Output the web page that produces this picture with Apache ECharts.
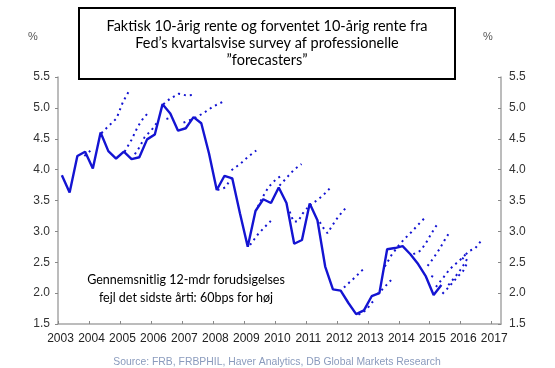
<!DOCTYPE html>
<html>
<head>
<meta charset="utf-8">
<script src="https://cdn.jsdelivr.net/npm/echarts@6/dist/echarts.min.js"></script>
<style>
html,body{margin:0;padding:0;background:#fff;}
#chart{width:555px;height:368px;}
</style>
</head>
<body>
<div id="chart"></div>
<script>
// ---- data ----
const titleLines = ['Faktisk 10-årig rente og forventet 10-årig rente fra', 'Fed\u2019s kvartalsvise survey af professionelle', '\u201dforecasters\u201d'];
const noteLines = ['Gennemsnitlig 12-mdr forudsigelses', 'fejl det sidste årti: 60bps for høj'];
const sourceText = 'Source: FRB, FRBPHIL, Haver Analytics, DB Global Markets Research';
const yTicks = [1.5, 2.0, 2.5, 3.0, 3.5, 4.0, 4.5, 5.0, 5.5];
const yearLabels = [2003, 2004, 2005, 2006, 2007, 2008, 2009, 2010, 2011, 2012, 2013, 2014, 2015, 2016, 2017];

// actual 10y yield, quarterly (mid-quarter positions)
const actualX = [
  2003.125, 2003.375, 2003.625, 2003.875, 2004.125, 2004.375, 2004.625, 2004.875,
  2005.125, 2005.375, 2005.625, 2005.875, 2006.125, 2006.375, 2006.625, 2006.875,
  2007.125, 2007.375, 2007.625, 2007.875, 2008.125, 2008.375, 2008.625, 2008.875,
  2009.125, 2009.375, 2009.625, 2009.875, 2010.125, 2010.375, 2010.625, 2010.875,
  2011.125, 2011.375, 2011.625, 2011.875, 2012.125, 2012.375, 2012.625, 2012.875,
  2013.125, 2013.375, 2013.625, 2013.875, 2014.125, 2014.375, 2014.625, 2014.875,
  2015.125, 2015.375
];
const actualY = [
  3.91, 3.63, 4.22, 4.29, 4.02, 4.60, 4.30, 4.18,
  4.29, 4.17, 4.20, 4.49, 4.57, 5.06, 4.91, 4.63,
  4.67, 4.85, 4.75, 4.26, 3.67, 3.90, 3.86, 3.29,
  2.75, 3.33, 3.52, 3.46, 3.71, 3.46, 2.80, 2.86,
  3.45, 3.18, 2.43, 2.06, 2.04, 1.84, 1.66, 1.72,
  1.95, 2.00, 2.71, 2.73, 2.76, 2.63, 2.47, 2.27,
  1.97, 2.13
];

// survey forecast paths: [date, forecast]
const fc01 = [[2003.85, 4.22], [2004.1, 4.33]];
const fc02 = [[2004.4, 4.59], [2004.62, 4.70], [2004.89, 4.83], [2005.1, 5.10], [2005.32, 5.30]];
const fc03 = [[2005.15, 4.29], [2005.37, 4.48], [2005.58, 4.70], [2005.75, 4.83], [2005.89, 4.91]];
const fc04 = [[2005.48, 4.25], [2005.64, 4.37], [2005.8, 4.53], [2006.02, 4.64], [2006.18, 4.75]];
const fc05 = [[2006.4, 5.06], [2006.62, 5.15], [2006.9, 5.23], [2007.15, 5.20], [2007.35, 5.21]];
const fc06 = [[2006.5, 4.82], [2006.68, 4.85]];
const fc07 = [[2007.05, 4.76], [2007.4, 4.83], [2007.68, 4.91], [2008.0, 5.02], [2008.33, 5.10]];
const fc08 = [[2008.15, 3.67], [2008.4, 3.71], [2008.62, 3.88]];
const fc09 = [[2008.6, 3.99], [2008.9, 4.10], [2009.14, 4.21], [2009.4, 4.31]];
const fc10 = [[2009.2, 2.78], [2009.45, 2.95], [2009.67, 3.07], [2009.87, 3.17]];
const fc11 = [[2009.45, 3.40], [2009.6, 3.55], [2009.8, 3.72], [2010.05, 3.85], [2010.27, 3.92]];
const fc12 = [[2010.15, 3.74], [2010.42, 3.89], [2010.62, 4.00], [2010.86, 4.09]];
const fc13 = [[2010.48, 3.32], [2010.6, 3.16], [2010.75, 3.16], [2010.9, 3.29], [2011.05, 3.38]];
const fc14 = [[2011.13, 3.42], [2011.35, 3.50], [2011.55, 3.58], [2011.78, 3.70]];
const fc15 = [[2011.45, 3.15], [2011.6, 3.03], [2011.7, 2.97], [2011.86, 3.10], [2012.05, 3.24], [2012.27, 3.37]];
const fc16 = [[2012.23, 2.09], [2012.42, 2.18], [2012.62, 2.27], [2012.77, 2.35], [2012.92, 2.41]];
const fc17 = [[2012.7, 1.65], [2012.96, 1.73], [2013.07, 1.81], [2013.23, 1.90]];
const fc18 = [[2013.3, 1.98], [2013.45, 2.05], [2013.6, 2.13], [2013.77, 2.22]];
const fc19 = [[2013.55, 2.43], [2013.77, 2.62], [2013.98, 2.76], [2014.17, 2.87], [2014.41, 2.99], [2014.63, 3.11], [2014.88, 3.24]];
const fc20 = [[2014.47, 2.63], [2014.71, 2.69], [2014.9, 2.83], [2015.07, 2.98], [2015.25, 3.12]];
const fc21 = [[2014.93, 2.44], [2015.11, 2.56], [2015.31, 2.71], [2015.47, 2.85], [2015.63, 2.98]];
const fc22 = [[2015.05, 2.28], [2015.2, 2.24]];
const fc23 = [[2015.2, 2.10], [2015.45, 2.26], [2015.65, 2.39], [2015.85, 2.48], [2016.03, 2.56], [2016.24, 2.67]];
const fc24 = [[2015.41, 1.99], [2015.6, 2.09], [2015.74, 2.17], [2015.89, 2.26], [2016.08, 2.36], [2016.2, 2.48]];
const fc25 = [[2015.6, 2.13], [2015.8, 2.25], [2015.98, 2.37], [2016.15, 2.50], [2016.25, 2.60]];
const fc26 = [[2016.05, 2.55], [2016.25, 2.68], [2016.46, 2.72], [2016.68, 2.86], [2016.73, 2.87]];
const forecasts = [fc01, fc02, fc03, fc04, fc05, fc06, fc07, fc08, fc09, fc10, fc11, fc12, fc13,
  fc14, fc15, fc16, fc17, fc18, fc19, fc20, fc21, fc22, fc23, fc24, fc25, fc26];

// ---- chart ----
const BLUE = '#1414d2';
const AXIS = '#a6a6a6';
const chart = echarts.init(document.getElementById('chart'), null, {renderer: 'canvas'});

const series = [];
forecasts.forEach(function (f) {
  series.push({
    type: 'line', data: f, symbol: 'none', silent: true, z: 2,
    lineStyle: {color: BLUE, width: 2, type: [2, 4], cap: 'butt'}
  });
});
series.push({
  type: 'line', data: actualX.map(function (x, i) { return [x, actualY[i]]; }),
  symbol: 'none', z: 3,
  lineStyle: {color: BLUE, width: 2.4}
});

const yCommon = {
  type: 'value', min: 1.5, max: 5.5, interval: 0.5,
  splitLine: {show: false},
  axisLine: {show: true, lineStyle: {color: AXIS, width: 1.5}},
  axisLabel: {color: '#333', fontSize: 12, fontFamily: 'Liberation Sans, Arial', margin: 8,
    formatter: function (v) { return v.toFixed(1); }}
};

chart.setOption({
  animation: false,
  grid: {left: 58, right: 54, top: 77, bottom: 44, containLabel: false},
  xAxis: {
    type: 'value', min: 2003, max: 2017.3,
    splitLine: {show: false},
    axisLine: {show: true, onZero: false, lineStyle: {color: AXIS, width: 1.5}},
    axisTick: {show: true, inside: true, length: 3, lineStyle: {color: '#888'}, customValues: yearLabels},
    axisLabel: {color: '#222', fontSize: 12, fontFamily: 'Liberation Sans, Arial', margin: 9,
      padding: [0, 0, 0, 5],
      customValues: yearLabels, formatter: function (v) { return String(v); }}
  },
  yAxis: [
    Object.assign({}, yCommon, {position: 'left',
      axisTick: {show: true, inside: false, length: 3, lineStyle: {color: '#888'}}}),
    Object.assign({}, yCommon, {position: 'right',
      axisTick: {show: true, inside: true, length: 3, lineStyle: {color: '#888'}}})
  ],
  series: series,
  graphic: [
    {type: 'text', left: 28, top: 31, style: {text: '%', fill: '#555', font: '11px Liberation Sans'}},
    {type: 'text', left: 483, top: 31, style: {text: '%', fill: '#555', font: '11px Liberation Sans'}},
    {type: 'rect', z: 10, shape: {x: 79, y: 8, width: 376, height: 71},
      style: {fill: '#fff', stroke: '#000', lineWidth: 2}},
    {type: 'text', z: 11, x: 267, y: 43.5,
      style: {text: titleLines.join('\n'), fill: '#000', font: '14.5px Lato', align: 'center',
        verticalAlign: 'middle', lineHeight: 16.7}},
    {type: 'text', z: 11, x: 186, y: 289,
      style: {text: noteLines.join('\n'), fill: '#000', font: '12.5px Lato', align: 'center',
        verticalAlign: 'middle', lineHeight: 18}},
    {type: 'text', z: 11, x: 277, y: 362,
      style: {text: sourceText, fill: '#8a9bbd', font: '10.4px Liberation Sans', align: 'center',
        verticalAlign: 'middle'}}
  ]
});
</script>
</body>
</html>
